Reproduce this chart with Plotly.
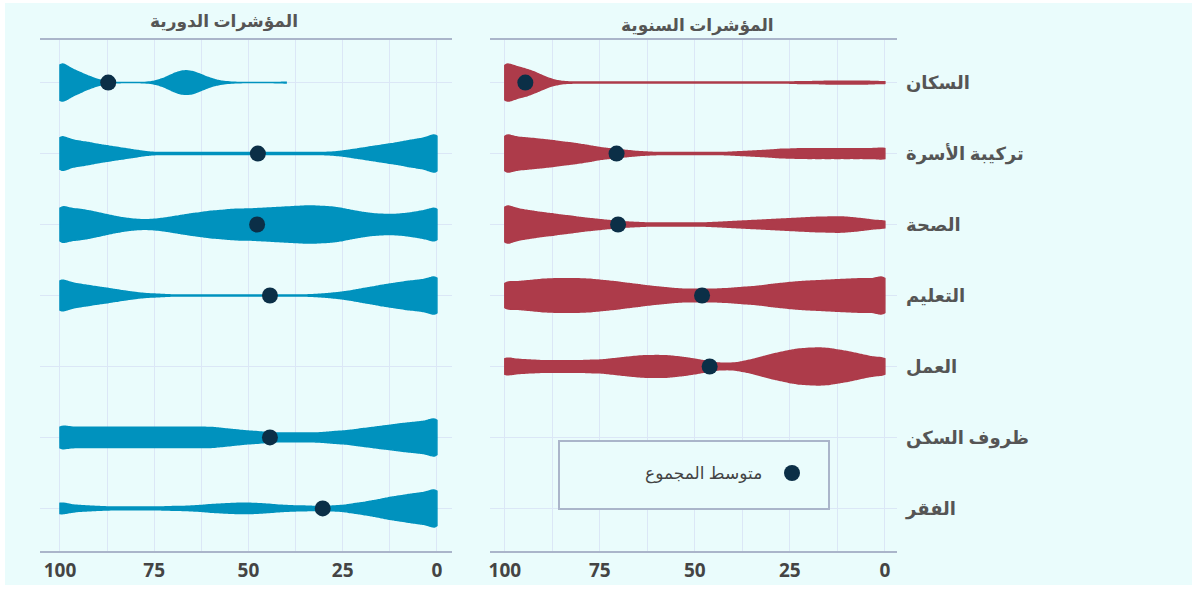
import numpy as np
import plotly.graph_objects as go

# ---------------- data ----------------
CATEGORIES = ["السكان", "تركيبة الأسرة", "الصحة", "التعليم", "العمل", "ظروف السكن", "الفقر"]
PANEL_TITLES = ["المؤشرات الدورية", "المؤشرات السنوية"]
LEGEND_LABEL = "متوسط المجموع"
TICK_VALUES = [0, 25, 50, 75, 100]
TICK_LABELS = ["0", "25", "50", "75", "100"]

# score grid (0 .. 100) on which the distributions were read
SCORE_GRID = [0, 2.5, 5, 7.5, 10, 12.5, 15, 17.5, 20, 22.5, 25, 27.5, 30, 32.5, 35, 37.5,
              40, 42.5, 45, 47.5, 50, 52.5, 55, 57.5, 60, 62.5, 65, 67.5, 70, 72.5, 75,
              77.5, 80, 82.5, 85, 87.5, 90, 92.5, 95, 97.5, 100]

# periodic indicators: number of observations at each score of SCORE_GRID
periodic_population = [0, 0, 0, 0, 0, 0, 0, 0, 0, 0, 0, 0, 0, 0, 0, 0,
                       1, 0, 0, 0, 0, 0, 1, 3, 8, 16, 24, 25, 18, 8, 2,
                       0, 0, 0, 0, 2, 6, 13, 22, 30, 47]
periodic_family = [46, 33, 30, 27, 23, 20, 17, 14, 11, 8, 5, 3, 2, 2, 2, 2,
                   2, 2, 2, 2, 2, 2, 2, 2, 2, 2, 2, 2, 2, 2, 2,
                   4, 7, 10, 13, 16, 19, 23, 26, 29, 42]
periodic_health = [37, 28, 25, 22, 20, 19, 20, 21, 24, 27, 31, 34, 35, 36, 36, 35,
                   34, 33, 32, 31, 30, 30, 29, 27, 26, 23, 21, 18, 15, 12, 10,
                   9, 10, 12, 15, 19, 23, 27, 30, 31, 40]
periodic_education = [46, 34, 32, 30, 27, 24, 21, 17, 14, 10, 7, 5, 3, 2, 1, 1,
                      1, 1, 1, 1, 1, 1, 1, 1, 1, 1, 1, 1, 1, 2, 3,
                      4, 6, 9, 12, 15, 18, 21, 24, 27, 39]
periodic_housing = [45, 34, 32, 30, 28, 25, 23, 20, 18, 15, 13, 12, 10, 9, 9, 9,
                    9, 9, 10, 12, 13, 15, 17, 19, 21, 21, 21, 21, 21, 21, 21,
                    21, 21, 21, 21, 21, 21, 21, 21, 21, 27]
periodic_poverty = [46, 34, 32, 29, 26, 23, 19, 15, 12, 9, 6, 5, 4, 4, 5, 5,
                    6, 7, 9, 10, 11, 11, 10, 9, 8, 6, 5, 4, 4, 3, 3,
                    3, 3, 3, 3, 3, 4, 5, 6, 8, 14]

# annual indicators
annual_population = [2, 2, 3, 3, 3, 3, 3, 2, 2, 2, 1, 1, 1, 1, 1, 1,
                     1, 1, 1, 1, 1, 1, 1, 1, 1, 1, 1, 1, 1, 1, 1,
                     1, 1, 1, 2, 6, 14, 23, 30, 34, 46]
annual_family = [13, 10, 10, 10, 10, 10, 10, 10, 10, 10, 9, 9, 7, 6, 5, 4,
                 3, 2, 2, 2, 2, 2, 2, 2, 2, 3, 4, 6, 8, 10, 12,
                 16, 19, 22, 24, 27, 29, 31, 33, 34, 45]
annual_health = [8, 8, 11, 13, 15, 16, 15, 15, 14, 13, 12, 11, 10, 9, 8, 7,
                 6, 5, 4, 3, 3, 3, 3, 3, 3, 3, 4, 5, 6, 8, 10,
                 12, 14, 17, 19, 22, 24, 27, 30, 33, 45]
annual_education = [45, 35, 35, 35, 34, 33, 32, 31, 30, 29, 27, 25, 23, 20, 18, 17,
                    15, 14, 13, 13, 13, 13, 14, 16, 18, 20, 23, 25, 28, 30, 32,
                    34, 35, 35, 35, 35, 34, 32, 30, 28, 31]
annual_work = [18, 17, 21, 25, 29, 32, 35, 36, 35, 34, 31, 27, 23, 18, 13, 9,
               6, 6, 7, 11, 14, 17, 19, 21, 21, 21, 20, 18, 16, 14, 12,
               12, 11, 11, 11, 11, 11, 12, 13, 14, 19]

periodic_counts = [periodic_population, periodic_family, periodic_health,
                   periodic_education, None, periodic_housing, periodic_poverty]
annual_counts = [annual_population, annual_family, annual_health,
                 annual_education, annual_work, None, None]

# overall means (dots)
periodic_means = [87.2, 47.5, 47.7, 44.3, None, 44.3, 30.3]
annual_means = [94.6, 70.6, 70.2, 48.1, 46.1, None, None]

# ---------------- style ----------------
BLUE = "#0092be"
RED = "#ad3b4a"
DOT = "#0b2f47"
BG = "#eafcfc"
GRID = "#dbe7f6"
AXLINE = "#aab5ca"
FONT = "Open Sans, DejaVu Sans, sans-serif"

W, H = 1192, 592
ML, MR, MT, MB = 40, 295, 40, 41
PW = W - ML - MR
PH = H - MT - MB


def px2x(px):
    return (px - ML) / PW


def py2y(py):
    return 1 - (py - MT) / PH


fig = go.Figure()

panels = [("x", "y", periodic_counts, periodic_means, BLUE),
          ("x2", "y2", annual_counts, annual_means, RED)]

for xa, ya, counts_list, means, color in panels:
    for cat, counts in zip(CATEGORIES, counts_list):
        if counts is None:
            continue
        samples = np.repeat(np.array(SCORE_GRID, dtype=float), counts)
        fig.add_trace(go.Violin(
            x=samples, y=[cat] * len(samples), orientation="h",
            xaxis=xa, yaxis=ya,
            line=dict(color=color, width=1.5), fillcolor=color, opacity=1,
            points=False, box_visible=False, meanline_visible=False,
            spanmode="hard", bandwidth=1.5, scalemode="width", width=0.52,
            showlegend=False, hoverinfo="skip", name=cat,
        ))
    mx = [m for m in means if m is not None]
    my = [c for c, m in zip(CATEGORIES, means) if m is not None]
    fig.add_trace(go.Scatter(
        x=mx, y=my, xaxis=xa, yaxis=ya, mode="markers",
        marker=dict(color=DOT, size=16, line=dict(width=0)),
        name=LEGEND_LABEL, showlegend=False,
    ))

xcommon = dict(
    tickmode="array", tickvals=TICK_VALUES, ticktext=TICK_LABELS,
    showgrid=True, gridcolor=GRID, gridwidth=1,
    minor=dict(dtick=12.5, tick0=0, showgrid=True, gridcolor=GRID, gridwidth=1),
    showline=True, mirror=True, linecolor=AXLINE, linewidth=2,
    zeroline=False, ticks="", ticklabelstandoff=1, automargin=False,
    tickfont=dict(family=FONT, size=19, color="#444444", weight="bold"),
)
ycommon = dict(
    type="category", categoryorder="array", categoryarray=CATEGORIES,
    range=[6.6, -0.6], showgrid=True, gridcolor=GRID, gridwidth=1,
    zeroline=False, showline=False, ticks="", automargin=False,
)

fig.update_layout(
    width=W, height=H, autosize=False,
    margin=dict(l=ML, r=MR, t=MT, b=MB, autoexpand=False),
    paper_bgcolor="white", plot_bgcolor=BG,
    showlegend=False,
    violinmode="overlay",
    xaxis=dict(domain=[0, px2x(452)], range=[105.3, -4.0], anchor="y", **xcommon),
    xaxis2=dict(domain=[px2x(490), 1], range=[103.9, -3.2], anchor="y2", **xcommon),
    yaxis=dict(domain=[0, 1], anchor="x", showticklabels=False, **ycommon),
    yaxis2=dict(domain=[0, 1], anchor="x2", side="right", showticklabels=True,
                ticklabelstandoff=8,
                tickfont=dict(family=FONT, size=18, color="#555555", weight="bold"),
                **ycommon),
    font=dict(family=FONT),
)

# page background with the thin white border of the original
fig.add_shape(type="rect", xref="paper", yref="paper", layer="below",
              x0=px2x(5), x1=px2x(W + 5), y0=py2y(585), y1=py2y(3),
              fillcolor=BG, line=dict(width=0))

# panel titles
fig.add_annotation(text=PANEL_TITLES[0], xref="paper", yref="paper",
                   x=px2x(224), y=py2y(21), xanchor="center", yanchor="middle",
                   showarrow=False,
                   font=dict(family=FONT, size=17, color="#555555", weight="bold"))
fig.add_annotation(text=PANEL_TITLES[1], xref="paper", yref="paper",
                   x=px2x(697), y=py2y(24), xanchor="center", yanchor="middle",
                   showarrow=False,
                   font=dict(family=FONT, size=17, color="#555555", weight="bold"))

# legend box (text on the left of the marker, right-to-left)
fig.add_shape(type="rect", xref="paper", yref="paper", layer="above",
              x0=px2x(559), x1=px2x(829), y0=py2y(509), y1=py2y(441),
              fillcolor=BG, line=dict(color=AXLINE, width=2))
fig.add_shape(type="circle", xref="paper", yref="paper", layer="above",
              x0=px2x(784), x1=px2x(800), y0=py2y(481), y1=py2y(465),
              fillcolor=DOT, line=dict(width=0))
fig.add_annotation(text=LEGEND_LABEL, xref="paper", yref="paper",
                   x=px2x(764), y=py2y(472), xanchor="right", yanchor="middle",
                   showarrow=False,
                   font=dict(family=FONT, size=17, color="#444444"))

fig.write_html("out.html")
